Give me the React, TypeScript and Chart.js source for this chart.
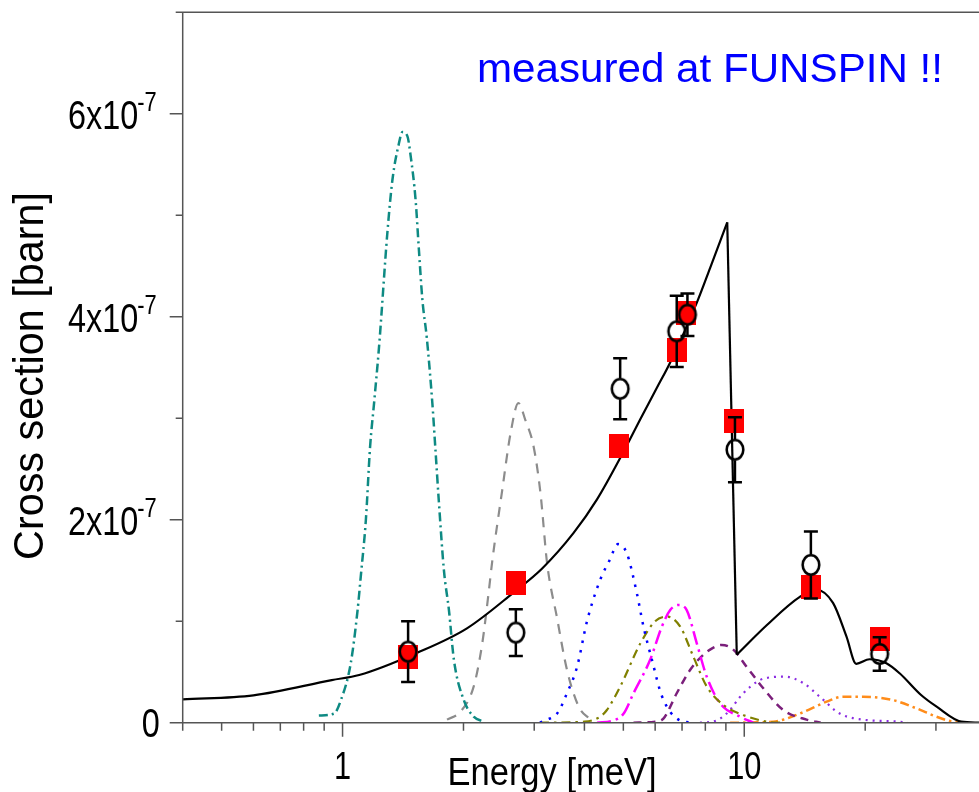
import React, { useEffect, useRef } from 'react';
import { Chart, registerables } from 'chart.js';
Chart.register(...registerables);

// Energies in meV, cross sections in units of 1e-7 barn
const modelE = [0.4, 0.6, 0.94, 1.1, 1.535, 2.04, 2.66, 3.14, 3.76, 4.3, 4.96, 5.51, 6.06, 6.54, 7.62, 8.22, 9.07, 9.58, 11.37, 13.75, 15.1, 16.63, 17.96, 19.0, 20.5, 22.58, 24.36, 27.6, 30.06, 34.7, 38.4];
const modelS = [0.23, 0.27, 0.42, 0.47, 0.69, 0.93, 1.28, 1.52, 1.87, 2.2, 2.64, 2.99, 3.3, 3.55, 4.14, 4.48, 4.93, 0.67, 0.96, 1.24, 1.31, 1.18, 0.85, 0.58, 0.625, 0.586, 0.487, 0.27, 0.16, 0.01, 0.0];
// indices where the model curve has sharp corners (peak and edge)
const modelBreaks = [16, 17];

const tealE = [0.873, 0.953, 0.99, 1.048, 1.09, 1.11, 1.143, 1.171, 1.198, 1.233, 1.293, 1.331, 1.38, 1.409, 1.45, 1.478, 1.52, 1.549, 1.58, 1.62, 1.673, 1.705, 1.738, 1.788, 1.84, 1.893, 2.005, 2.12, 2.25];
const tealS = [0.07, 0.09, 0.22, 0.585, 1.11, 1.44, 2.0, 2.72, 3.15, 3.71, 4.83, 5.35, 5.7, 5.82, 5.78, 5.58, 5.15, 4.66, 4.17, 3.8, 3.15, 2.66, 2.16, 1.5, 1.11, 0.62, 0.22, 0.06, 0.01];

const grayE = [1.82, 1.967, 2.12, 2.227, 2.31, 2.36, 2.497, 2.619, 2.74, 2.85, 2.99, 3.11, 3.23, 3.42, 3.62, 3.87, 4.14];
const grayS = [0.03, 0.11, 0.355, 0.78, 1.28, 1.6, 2.29, 2.85, 3.15, 2.985, 2.72, 2.26, 1.57, 1.03, 0.52, 0.16, 0.03];

const blueE = [3.1, 3.23, 3.42, 3.62, 3.835, 4.06, 4.38, 4.62, 4.85, 5.1, 5.4, 5.61, 5.89, 6.24, 6.86, 7.5];
const blueS = [0.0, 0.03, 0.09, 0.29, 0.55, 1.0, 1.41, 1.6, 1.76, 1.67, 1.28, 0.95, 0.62, 0.26, 0.03, 0.0];

const oliveE = [3.1, 4.0, 4.38, 4.55, 4.91, 5.51, 6.0, 6.42, 6.92, 7.47, 8.07, 8.87, 9.94, 11.37, 12.5];
const oliveS = [0.0, 0.01, 0.06, 0.125, 0.355, 0.78, 1.0, 1.045, 0.95, 0.65, 0.355, 0.175, 0.076, 0.01, 0.0];

const magentaE = [4.3, 4.7, 5.01, 5.3, 5.83, 6.24, 6.54, 6.86, 7.19, 7.62, 8.07, 8.71, 9.75, 10.52];
const magentaS = [0.0, 0.02, 0.09, 0.29, 0.62, 0.95, 1.11, 1.16, 1.11, 0.78, 0.45, 0.19, 0.06, 0.0];

const purpleE = [5.3, 6.0, 6.29, 6.79, 7.33, 7.91, 8.38, 8.79, 9.39, 10.14, 11.15, 12.5, 14.29, 15.5];
const purpleS = [0.0, 0.01, 0.04, 0.29, 0.52, 0.67, 0.74, 0.766, 0.72, 0.55, 0.34, 0.125, 0.03, 0.0];

const violetE = [7.76, 8.5, 9.04, 9.94, 10.94, 11.8, 12.62, 14.02, 15.42, 17.29, 19.75, 24.4, 25.5];
const violetS = [0.0, 0.02, 0.09, 0.29, 0.42, 0.45, 0.454, 0.39, 0.256, 0.09, 0.03, 0.01, 0.0];

const orangeE = [9.22, 11.8, 13.75, 16.03, 17.6, 19.75, 23.4, 26.8, 30.06, 33.0, 35.0];
const orangeS = [0.0, 0.01, 0.09, 0.207, 0.256, 0.256, 0.224, 0.142, 0.06, 0.01, 0.0];

const squareE = [1.456, 2.7, 4.89, 6.79, 7.17, 9.45, 14.65, 21.73];
const squareS = [0.65, 1.375, 2.73, 3.675, 4.04, 2.97, 1.34, 0.82];

const circleE = [1.456, 2.7, 4.91, 6.79, 7.22, 9.48, 14.65, 21.73];
const circleS = [0.7, 0.888, 3.29, 3.856, 4.02, 2.69, 1.555, 0.677];
const circleErr = [0.3, 0.23, 0.3, 0.35, 0.21, 0.32, 0.33, 0.165];

const yMajorTicks = [0, 2, 4, 6];
const yTickLabels = [{ base: '0', sup: '' }, { base: '2x10', sup: '-7' }, { base: '4x10', sup: '-7' }, { base: '6x10', sup: '-7' }];
const yMinorTicks = [1, 3, 5];
const xMajorTicks = [1, 10];
const xTickLabels = ['1', '10'];
const xMinorTicks = [0.4, 0.5, 0.6, 0.7, 0.8, 0.9, 2, 3, 4, 5, 6, 7, 8, 9, 20, 30];

const xTitle = 'Energy [meV]';
const yTitle = 'Cross section [barn]';
const note = 'measured at FUNSPIN !!';

const FONT = '"Liberation Sans", Arial, sans-serif';

const pts = (xs: number[], ys: number[], from = 0, to = xs.length) =>
  xs.slice(from, to).map((x, i) => ({ x, y: ys[from + i] }));

function drawText(ctx: CanvasRenderingContext2D, text: string, x: number, y: number, size: number, sx: number, align: string, color = '#000') {
  ctx.save();
  ctx.font = `${size}px ${FONT}`;
  ctx.fillStyle = color;
  ctx.textBaseline = 'alphabetic';
  ctx.textAlign = 'left';
  const w = ctx.measureText(text).width * sx;
  const x0 = align === 'left' ? x : align === 'right' ? x - w : x - w / 2;
  ctx.translate(x0, y);
  ctx.scale(sx, 1);
  ctx.fillText(text, 0, 0);
  ctx.restore();
  return w;
}

function fitScale(ctx: CanvasRenderingContext2D, text: string, size: number, target: number) {
  ctx.save();
  ctx.font = `${size}px ${FONT}`;
  const w = ctx.measureText(text).width;
  ctx.restore();
  return target / w;
}

const axesPlugin = {
  id: 'customAxes',
  afterDraw(chart: any) {
    const { ctx, chartArea: a, scales } = chart;
    const xs = scales.x;
    const ys = scales.y;
    ctx.save();
    ctx.strokeStyle = '#555';
    ctx.lineWidth = 1.5;
    ctx.beginPath();
    ctx.moveTo(a.left, a.top);
    ctx.lineTo(a.left, a.bottom);
    ctx.moveTo(a.left, a.bottom);
    ctx.lineTo(chart.width, a.bottom);
    ctx.moveTo(a.left - 7, a.top);
    ctx.lineTo(chart.width, a.top);
    yMajorTicks.forEach((v) => {
      const p = ys.getPixelForValue(v);
      ctx.moveTo(a.left - 13, p);
      ctx.lineTo(a.left, p);
    });
    yMinorTicks.forEach((v) => {
      const p = ys.getPixelForValue(v);
      ctx.moveTo(a.left - 7, p);
      ctx.lineTo(a.left, p);
    });
    xMajorTicks.forEach((v) => {
      const p = xs.getPixelForValue(v);
      ctx.moveTo(p, a.bottom);
      ctx.lineTo(p, a.bottom + 14);
    });
    xMinorTicks.forEach((v) => {
      const p = xs.getPixelForValue(v);
      ctx.moveTo(p, a.bottom);
      ctx.lineTo(p, a.bottom + 8);
    });
    ctx.stroke();
    ctx.restore();

    // y tick labels
    yMajorTicks.forEach((v, i) => {
      const p = ys.getPixelForValue(v);
      const lab = yTickLabels[i];
      if (lab.sup) {
        const ws = drawText(ctx, lab.sup, a.left - 26, p - 3, 27, 0.81, 'right');
        drawText(ctx, lab.base, a.left - 26 - ws + 1, p + 15.5, 40, 0.81, 'right');
      } else {
        drawText(ctx, lab.base, a.left - 23, p + 14, 40, 0.81, 'right');
      }
    });
    // x tick labels
    xMajorTicks.forEach((v, i) => {
      const p = xs.getPixelForValue(v);
      drawText(ctx, xTickLabels[i], p, a.bottom + 56, 38, 0.81, 'center');
    });
    // x title
    drawText(ctx, xTitle, 552, a.bottom + 62, 38, fitScale(ctx, xTitle, 38, 209), 'center');
    // y title
    ctx.save();
    ctx.translate(43, 376);
    ctx.rotate(-Math.PI / 2);
    drawText(ctx, yTitle, 0, 0, 42, fitScale(ctx, yTitle, 42, 368), 'center');
    ctx.restore();
    // annotation
    drawText(ctx, note, 477, 81.5, 40, fitScale(ctx, note, 40, 466), 'left', '#0000ff');
  },
};

const errorPlugin = {
  id: 'errorBars',
  afterDatasetsDraw(chart: any) {
    const { ctx, scales } = chart;
    const xs = scales.x;
    const ys = scales.y;
    ctx.save();
    ctx.strokeStyle = '#000';
    ctx.lineWidth = 2.5;
    ctx.beginPath();
    circleE.forEach((e, i) => {
      const px = xs.getPixelForValue(e);
      const py = ys.getPixelForValue(circleS[i]);
      const top = ys.getPixelForValue(circleS[i] + circleErr[i]);
      const bot = ys.getPixelForValue(circleS[i] - circleErr[i]);
      const r = 10.5;
      if (top < py - r) {
        ctx.moveTo(px, py - r);
        ctx.lineTo(px, top);
        ctx.moveTo(px - 7, top);
        ctx.lineTo(px + 7, top);
      }
      if (bot > py + r) {
        ctx.moveTo(px, py + r);
        ctx.lineTo(px, bot);
        ctx.moveTo(px - 7, bot);
        ctx.lineTo(px + 7, bot);
      }
    });
    ctx.stroke();
    ctx.restore();
  },
};

function makeSquare() {
  const c = document.createElement('canvas');
  c.width = 20;
  c.height = 24;
  const g = c.getContext('2d')!;
  g.fillStyle = '#ff0000';
  g.fillRect(0, 0, 20, 24);
  return c;
}

function makeCircle() {
  const c = document.createElement('canvas');
  c.width = 22;
  c.height = 26;
  const g = c.getContext('2d')!;
  g.strokeStyle = '#000';
  g.lineWidth = 2.6;
  g.beginPath();
  g.ellipse(11, 13, 8.3, 9.8, 0, 0, Math.PI * 2);
  g.stroke();
  return c;
}

export default function App() {
  const ref = useRef<HTMLCanvasElement | null>(null);
  useEffect(() => {
    if (!ref.current) return;
    const comp = (data: any, color: string, dash: number[], order: number, width = 2.2) => ({
      type: 'line',
      data,
      borderColor: color,
      borderWidth: width,
      borderDash: dash,
      pointRadius: 0,
      fill: false,
      cubicInterpolationMode: 'monotone',
      order,
    });
    const model = (data: any, smooth: boolean) => ({
      type: 'line',
      data,
      borderColor: '#000',
      borderWidth: 2.2,
      pointRadius: 0,
      fill: false,
      cubicInterpolationMode: smooth ? 'monotone' : 'default',
      tension: smooth ? 0.4 : 0,
      order: 2,
    });
    const [b1, b2] = modelBreaks;
    const chart = new Chart(ref.current, {
      type: 'line',
      data: {
        datasets: [
          {
            type: 'scatter',
            data: pts(circleE, circleS),
            pointStyle: makeCircle(),
            pointRadius: 10,
            showLine: false,
            order: 0,
          },
          {
            type: 'scatter',
            data: pts(squareE, squareS),
            pointStyle: makeSquare(),
            pointRadius: 10,
            showLine: false,
            order: 1,
          },
          model(pts(modelE, modelS, 0, b1 + 1), true),
          model(pts(modelE, modelS, b1, b2 + 1), false),
          model(pts(modelE, modelS, b2), true),
          comp(pts(tealE, tealS), '#0e8a83', [9, 4, 2, 4], 3, 2.5),
          comp(pts(grayE, grayS), '#8c8c8c', [10, 8], 4),
          comp(pts(blueE, blueS), '#0000ff', [2.5, 7], 5, 2.5),
          comp(pts(oliveE, oliveS), '#808000', [9, 5, 2.5, 5], 6),
          comp(pts(magentaE, magentaS), '#ff00ff', [14, 5, 2.5, 5], 7, 2.5),
          comp(pts(purpleE, purpleS), '#7b1f7b', [8, 6], 8, 2.5),
          comp(pts(violetE, violetS), '#8a2be2', [2, 5], 9),
          comp(pts(orangeE, orangeS), '#ff8c1a', [9, 4, 2.5, 4], 10, 2.5),
        ] as any,
      },
      options: {
        animation: false,
        responsive: false,
        devicePixelRatio: 1,
        layout: { autoPadding: false, padding: { left: 182.7, top: 12.3, right: 0, bottom: 69.3 } },
        plugins: { legend: { display: false }, tooltip: { enabled: false } },
        scales: {
          x: { type: 'logarithmic', min: 0.4, max: 38.4, display: false },
          y: { type: 'linear', min: 0, max: 7, display: false },
        },
      } as any,
      plugins: [axesPlugin, errorPlugin],
    });
    return () => chart.destroy();
  }, []);
  return (
    <div style={{ position: 'fixed', left: 0, top: 0, width: 979, height: 792, background: '#fff' }}>
      <canvas ref={ref} width={979} height={792} />
    </div>
  );
}
